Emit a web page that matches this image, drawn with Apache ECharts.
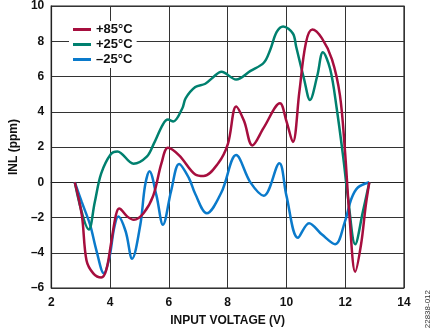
<!DOCTYPE html>
<html><head><meta charset="utf-8">
<script src="https://cdn.jsdelivr.net/npm/echarts@6/dist/echarts.min.js"></script>
<style>html,body{margin:0;padding:0;background:#fff}#c{width:435px;height:332px}</style>
</head><body><div id="c"></div>
<script>
const seriesNames = ['+85°C', '+25°C', '\u201325°C'];
const seriesColors = ['#A60E3E', '#00806F', '#0A7ACB'];
const xTicks = [2, 4, 6, 8, 10, 12, 14];
const yTicks = [-6, -4, -2, 0, 2, 4, 6, 8, 10];

const red85 = [[2.8,0],[3.04,-1.86],[3.2,-4.44],[3.43,-5.17],[3.7,-5.41],[3.87,-4.99],[4.03,-3.52],[4.2,-1.86],[4.31,-1.49],[4.59,-1.95],[4.81,-2.13],[5.14,-1.76],[5.47,-0.76],[5.75,1.08],[5.97,1.96],[6.35,1.53],[6.9,0.44],[7.18,0.35],[7.68,1.08],[8.01,2.18],[8.29,4.3],[8.56,3.47],[8.84,2.09],[9.23,3.1],[9.78,4.48],[10.0,3.47],[10.22,2.28],[10.44,5.13],[10.66,7.89],[10.88,8.66],[11.21,8.16],[11.55,6.97],[11.82,4.94],[11.99,1.82],[12.15,-2.04],[12.34,-5.08],[12.54,-3.52],[12.7,-1.31],[12.82,0]];
const green25 = [[2.8,0],[3.28,-2.68],[3.48,-1.13],[3.7,0.5],[4.03,1.6],[4.25,1.75],[4.8,1.05],[5.25,1.45],[5.49,2.19],[5.8,3.29],[5.97,3.56],[6.15,3.45],[6.46,4.2],[6.57,4.76],[6.9,5.4],[7.24,5.59],[7.5,5.95],[7.79,6.27],[8.29,5.83],[8.78,6.32],[9.23,6.78],[9.45,7.52],[9.67,8.53],[9.89,8.84],[10.22,8.44],[10.33,7.7],[10.6,5.86],[10.8,4.67],[11.05,6.04],[11.24,7.37],[11.49,6.41],[11.71,4.2],[11.93,1.45],[12.1,-0.94],[12.34,-3.52],[12.6,-1.68],[12.82,0]];
const blueM25 = [[2.8,0],[3.04,-1.13],[3.32,-2.41],[3.54,-3.89],[3.79,-5.17],[3.98,-4.25],[4.14,-2.6],[4.28,-1.95],[4.53,-2.78],[4.75,-4.34],[5.03,-2.41],[5.19,-0.2],[5.34,0.62],[5.58,-0.76],[5.8,-2.41],[6.08,-0.48],[6.35,1.04],[6.68,0.25],[6.9,-0.67],[7.29,-1.76],[7.79,-0.57],[8.29,1.54],[8.78,-0.02],[9.23,-0.76],[9.76,1.08],[10.0,-0.76],[10.39,-3.15],[10.77,-2.32],[11.21,-2.97],[11.66,-3.52],[11.99,-2.23],[12.21,-0.94],[12.43,-0.3],[12.82,0]];

const allData = [red85, green25, blueM25];
const font = '"Liberation Sans", Arial, sans-serif';
const chart = echarts.init(document.getElementById('c'), null, {renderer: 'canvas'});
chart.setOption({
  animation: false,
  backgroundColor: '#fff',
  grid: {left: 42, right: 31, top: 5, bottom: 37, show: true, borderColor: '#222', borderWidth: 1.2},
  legend: {
    orient: 'vertical', left: 69, top: 21,
    data: seriesNames, itemWidth: 18, itemHeight: 3, itemGap: 2,
    icon: 'rect', backgroundColor: '#fff', padding: [2, 4, 2, 4],
    textStyle: {fontFamily: font, fontWeight: 'bold', fontSize: 13, color: '#111'}
  },
  xAxis: {
    type: 'value', min: xTicks[0], max: xTicks[xTicks.length-1], interval: 2,
    name: 'INPUT VOLTAGE (V)', nameLocation: 'middle', nameGap: 27,
    nameTextStyle: {fontFamily: font, fontWeight: 'bold', fontSize: 12, color: '#111'},
    axisLine: {show: true, lineStyle: {color: '#222', width: 1.2}},
    axisTick: {show: false},
    axisLabel: {fontFamily: font, fontWeight: 'bold', fontSize: 12, color: '#111', margin: 9},
    splitLine: {show: true, lineStyle: {color: '#333', width: 1}}
  },
  yAxis: {
    type: 'value', min: yTicks[0], max: yTicks[yTicks.length-1], interval: 2,
    name: 'INL (ppm)', nameLocation: 'middle', nameGap: 30,
    nameTextStyle: {fontFamily: font, fontWeight: 'bold', fontSize: 12, color: '#111'},
    axisLine: {show: true, lineStyle: {color: '#222', width: 1.2}},
    axisTick: {show: false},
    axisLabel: {fontFamily: font, fontWeight: 'bold', fontSize: 12, color: '#111', margin: 7,
      formatter: v => String(v).replace('-', '\u2013')},
    splitLine: {show: true, lineStyle: {color: '#333', width: 1}}
  },
  graphic: [{
    type: 'text', left: 424, top: 290, rotation: Math.PI/2, originX: 0, originY: 0,
    style: {text: '22838-012', font: '8px ' + font, fill: '#333'}
  }],
  series: allData.map((d, i) => ({
    name: seriesNames[i], type: 'line', data: d, showSymbol: false, symbol: 'none',
    smooth: 0.35, lineStyle: {width: 2.5, color: seriesColors[i]}, itemStyle: {color: seriesColors[i]},
    z: 3 - i
  }))
});
</script></body></html>
